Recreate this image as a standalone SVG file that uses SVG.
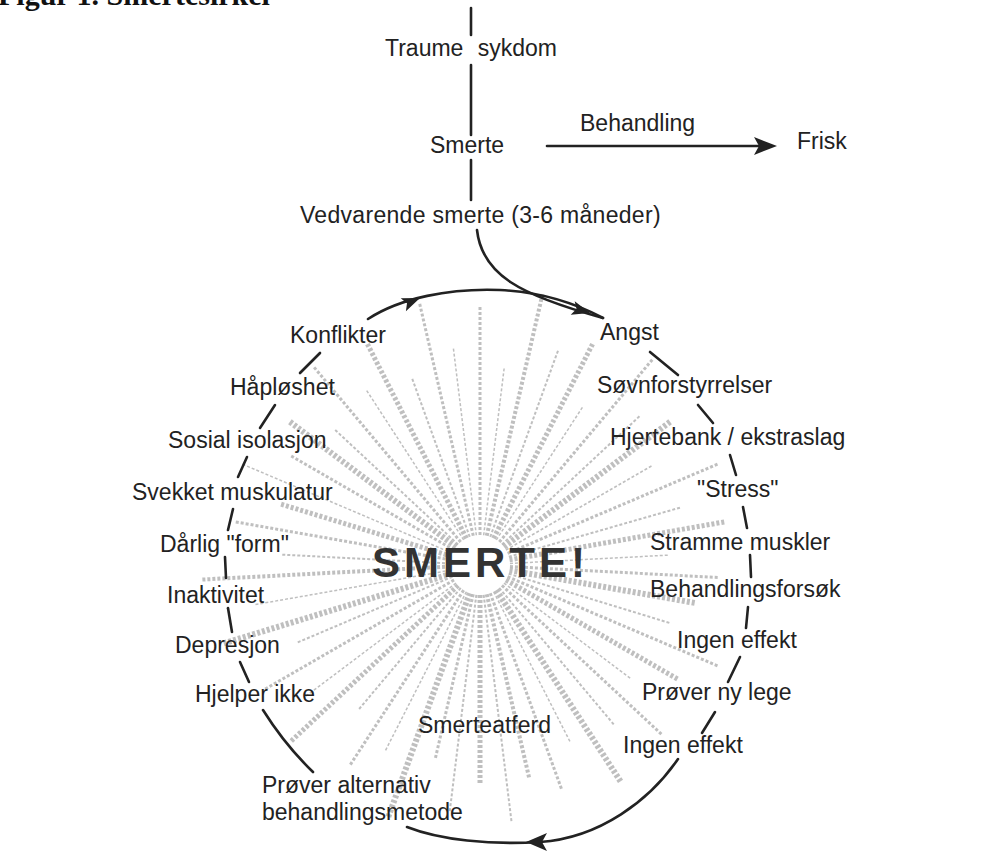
<svg xmlns="http://www.w3.org/2000/svg" width="982" height="865" viewBox="0 0 982 865">
<style>
.t{font-family:"Liberation Sans",Arial,sans-serif;font-size:23px;fill:#222}
.c{fill:none;stroke:#222;stroke-width:2.6;stroke-linecap:round}
.h{fill:#222}
.ray{stroke:#b5b5b5;stroke-dasharray:3 2;stroke-linecap:butt;opacity:0.85}
</style>
<rect width="982" height="865" fill="#fff"/>
<text x="-2" y="5" font-family="'Liberation Serif',serif" font-weight="bold" font-size="30" fill="#111">Figur 1. Smertesirkel</text>

<g id="starburst" transform="translate(480,565)">
<line class="ray" y1="-30" y2="-260" stroke-width="3" transform="rotate(0)"/>
<line class="ray" y1="-30" y2="-200" stroke-width="1.5" transform="rotate(7)"/>
<line class="ray" y1="-30" y2="-280" stroke-width="4" transform="rotate(13)"/>
<line class="ray" y1="-30" y2="-230" stroke-width="2" transform="rotate(20)"/>
<line class="ray" y1="-30" y2="-250" stroke-width="5" transform="rotate(27)"/>
<line class="ray" y1="-30" y2="-190" stroke-width="1.5" transform="rotate(33)"/>
<line class="ray" y1="-30" y2="-270" stroke-width="3" transform="rotate(40)"/>
<line class="ray" y1="-30" y2="-220" stroke-width="2" transform="rotate(47)"/>
<line class="ray" y1="-30" y2="-240" stroke-width="6" transform="rotate(53)"/>
<line class="ray" y1="-30" y2="-200" stroke-width="1.5" transform="rotate(60)"/>
<line class="ray" y1="-30" y2="-260" stroke-width="3" transform="rotate(67)"/>
<line class="ray" y1="-30" y2="-210" stroke-width="2" transform="rotate(74)"/>
<line class="ray" y1="-30" y2="-250" stroke-width="5" transform="rotate(80)"/>
<line class="ray" y1="-30" y2="-190" stroke-width="1.5" transform="rotate(87)"/>
<line class="ray" y1="-30" y2="-240" stroke-width="3" transform="rotate(93)"/>
<line class="ray" y1="-30" y2="-220" stroke-width="6" transform="rotate(100)"/>
<line class="ray" y1="-30" y2="-200" stroke-width="2" transform="rotate(107)"/>
<line class="ray" y1="-30" y2="-260" stroke-width="3" transform="rotate(113)"/>
<line class="ray" y1="-30" y2="-230" stroke-width="5" transform="rotate(120)"/>
<line class="ray" y1="-30" y2="-190" stroke-width="1.5" transform="rotate(127)"/>
<line class="ray" y1="-30" y2="-250" stroke-width="3" transform="rotate(133)"/>
<line class="ray" y1="-30" y2="-210" stroke-width="2" transform="rotate(140)"/>
<line class="ray" y1="-30" y2="-260" stroke-width="6" transform="rotate(147)"/>
<line class="ray" y1="-30" y2="-200" stroke-width="1.5" transform="rotate(153)"/>
<line class="ray" y1="-30" y2="-240" stroke-width="3" transform="rotate(160)"/>
<line class="ray" y1="-30" y2="-220" stroke-width="4" transform="rotate(167)"/>
<line class="ray" y1="-30" y2="-260" stroke-width="2" transform="rotate(173)"/>
<line class="ray" y1="-30" y2="-220" stroke-width="5" transform="rotate(180)"/>
<line class="ray" y1="-30" y2="-250" stroke-width="2" transform="rotate(187)"/>
<line class="ray" y1="-30" y2="-200" stroke-width="3" transform="rotate(193)"/>
<line class="ray" y1="-30" y2="-270" stroke-width="6" transform="rotate(200)"/>
<line class="ray" y1="-30" y2="-210" stroke-width="1.5" transform="rotate(207)"/>
<line class="ray" y1="-30" y2="-240" stroke-width="3" transform="rotate(213)"/>
<line class="ray" y1="-30" y2="-190" stroke-width="2" transform="rotate(220)"/>
<line class="ray" y1="-30" y2="-260" stroke-width="5" transform="rotate(227)"/>
<line class="ray" y1="-30" y2="-220" stroke-width="1.5" transform="rotate(233)"/>
<line class="ray" y1="-30" y2="-250" stroke-width="3" transform="rotate(240)"/>
<line class="ray" y1="-30" y2="-200" stroke-width="2" transform="rotate(247)"/>
<line class="ray" y1="-30" y2="-270" stroke-width="6" transform="rotate(253)"/>
<line class="ray" y1="-30" y2="-230" stroke-width="1.5" transform="rotate(260)"/>
<line class="ray" y1="-30" y2="-280" stroke-width="4" transform="rotate(267)"/>
<line class="ray" y1="-30" y2="-200" stroke-width="2" transform="rotate(273)"/>
<line class="ray" y1="-30" y2="-250" stroke-width="3" transform="rotate(280)"/>
<line class="ray" y1="-30" y2="-210" stroke-width="5" transform="rotate(287)"/>
<line class="ray" y1="-30" y2="-260" stroke-width="1.5" transform="rotate(293)"/>
<line class="ray" y1="-30" y2="-220" stroke-width="3" transform="rotate(300)"/>
<line class="ray" y1="-30" y2="-240" stroke-width="6" transform="rotate(307)"/>
<line class="ray" y1="-30" y2="-200" stroke-width="2" transform="rotate(313)"/>
<line class="ray" y1="-30" y2="-260" stroke-width="3" transform="rotate(320)"/>
<line class="ray" y1="-30" y2="-210" stroke-width="1.5" transform="rotate(327)"/>
<line class="ray" y1="-30" y2="-250" stroke-width="5" transform="rotate(333)"/>
<line class="ray" y1="-30" y2="-200" stroke-width="2" transform="rotate(340)"/>
<line class="ray" y1="-30" y2="-270" stroke-width="3" transform="rotate(347)"/>
<line class="ray" y1="-30" y2="-220" stroke-width="1.5" transform="rotate(353)"/>
</g>

<g id="connectors">
<line class="c" x1="471" y1="8" x2="471" y2="35"/>
<line class="c" x1="471" y1="65" x2="471" y2="135"/>
<line class="c" x1="471" y1="160" x2="471" y2="200"/>
<line class="c" x1="547" y1="146" x2="760" y2="146"/>
<polygon class="h" points="777,146 754,137 759,146 754,155"/>
<path class="c" d="M477,230 C482,275 520,295 603,318"/>
<polygon class="h" points="590,313 574.7,301.3 576.5,309.1 570.7,314.7"/>
<path class="c" d="M368,319 C400,298 450,288 500,290 C540,292 575,303 603,318"/>
<polygon class="h" points="420,298 400.7,298.2 407,303.2 405.9,311.2"/>
<line class="c" x1="650" y1="352" x2="678" y2="375"/>
<line class="c" x1="698" y1="405" x2="713" y2="423"/>
<line class="c" x1="730" y1="455" x2="736" y2="475"/>
<line class="c" x1="743" y1="507" x2="747" y2="528"/>
<line class="c" x1="750" y1="555" x2="751" y2="577"/>
<line class="c" x1="748" y1="607" x2="746" y2="628"/>
<line class="c" x1="740" y1="657" x2="728" y2="682"/>
<line class="c" x1="715" y1="712" x2="702" y2="733"/>
<path class="c" d="M678,759 C650,800 600,838 540,842 C490,845 440,840 407,827"/>
<polygon class="h" points="526,842 547,833 542,842 547,851"/>
<path class="c" d="M263,710 Q285,745 313,772"/>
<line class="c" x1="249" y1="682" x2="240" y2="662"/>
<line class="c" x1="232" y1="632" x2="228" y2="608"/>
<line class="c" x1="226" y1="578" x2="225" y2="557"/>
<line class="c" x1="228" y1="530" x2="233" y2="509"/>
<line class="c" x1="238" y1="477" x2="247" y2="457"/>
<line class="c" x1="260" y1="428" x2="275" y2="405"/>
<line class="c" x1="300" y1="373" x2="320" y2="353"/>
</g>

<g id="traume"><text class="t" x="385" y="56" word-spacing="8">Traume sykdom</text></g>
<g id="smerte"><text class="t" x="430" y="153">Smerte</text></g>
<g id="behandling"><text class="t" x="580" y="131">Behandling</text></g>
<g id="frisk"><text class="t" x="797" y="149">Frisk</text></g>
<g id="vedvarende"><text class="t" x="300" y="223" letter-spacing="0.3">Vedvarende smerte (3-6 måneder)</text></g>
<g id="smerte-center"><text x="372" y="577" font-family="'Liberation Sans',Arial,sans-serif" font-weight="bold" font-size="42" letter-spacing="4" fill="#333">SMERTE!</text></g>
<g id="angst"><text class="t" x="600" y="340">Angst</text></g>
<g id="sovn"><text class="t" x="597" y="393">Søvnforstyrrelser</text></g>
<g id="hjertebank"><text class="t" x="610" y="445">Hjertebank / ekstraslag</text></g>
<g id="stress"><text class="t" x="697" y="497">"Stress"</text></g>
<g id="stramme"><text class="t" x="650" y="550">Stramme muskler</text></g>
<g id="behforsok"><text class="t" x="650" y="597">Behandlingsforsøk</text></g>
<g id="ingen1"><text class="t" x="677" y="648">Ingen effekt</text></g>
<g id="nylege"><text class="t" x="642" y="700">Prøver ny lege</text></g>
<g id="ingen2"><text class="t" x="623" y="753">Ingen effekt</text></g>
<g id="smerteatferd"><text class="t" x="418" y="733">Smerteatferd</text></g>
<g id="alternativ"><text class="t" x="262" y="793" font-size="22">Prøver alternativ</text><text class="t" x="262" y="820" font-size="22">behandlingsmetode</text></g>
<g id="hjelper"><text class="t" x="195" y="702">Hjelper ikke</text></g>
<g id="depresjon"><text class="t" x="175" y="653">Depresjon</text></g>
<g id="inaktivitet"><text class="t" x="167" y="603">Inaktivitet</text></g>
<g id="darlig"><text class="t" x="160" y="552">Dårlig "form"</text></g>
<g id="svekket"><text class="t" x="132" y="500">Svekket muskulatur</text></g>
<g id="sosial"><text class="t" x="168" y="448">Sosial isolasjon</text></g>
<g id="haploshet"><text class="t" x="230" y="395">Håpløshet</text></g>
<g id="konflikter"><text class="t" x="290" y="343">Konflikter</text></g>
</svg>
